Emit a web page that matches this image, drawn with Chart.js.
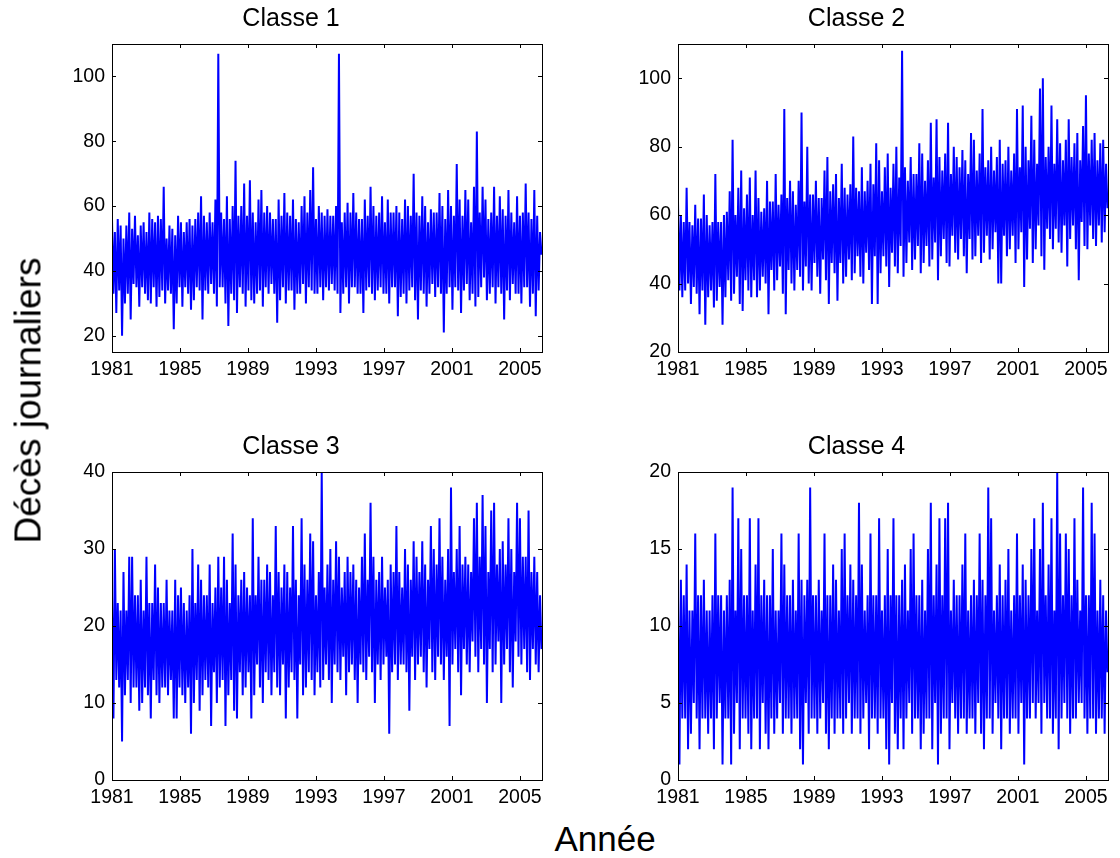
<!DOCTYPE html>
<html>
<head>
<meta charset="utf-8">
<script src="https://cdn.jsdelivr.net/npm/chart.js@4.4.1/dist/chart.umd.min.js"></script>
<style>
  body { margin: 0; background: #fff; }
  #wrap { position: relative; width: 1120px; height: 858px; overflow: hidden; font-family: "Liberation Sans", Arial, sans-serif; }
  canvas { position: absolute; }
  .lab { position: absolute; color: #000; line-height: 1; white-space: nowrap; text-align: center; z-index: 2; }
</style>
</head>
<body>
<div id="wrap">
  <canvas id="c1" width="520" height="390" style="left:40px;top:0px"></canvas>
  <canvas id="c2" width="515" height="390" style="left:605px;top:0px"></canvas>
  <canvas id="c3" width="520" height="390" style="left:40px;top:428px"></canvas>
  <canvas id="c4" width="515" height="390" style="left:605px;top:428px"></canvas>
  <div class="lab" id="ylab" style="font-size:37px;width:400px;left:-172px;top:382px;transform:rotate(-90deg)">Décès journaliers</div>
  <div class="lab" style="font-size:35px;width:300px;left:455px;top:821px">Année</div>
</div>
<script>
// x axis: years (daily series, drawn as evenly spaced samples between start and end)
const tStart = 1981;
const tEnd = 2006.27;
const yearTicks = [1981, 1985, 1989, 1993, 1997, 2001, 2005];

const titles = ['Classe 1', 'Classe 2', 'Classe 3', 'Classe 4'];

// Classe 1 - daily deaths (alternating highs / lows)
const classe1 = [
  56,33,52,27,56,34,54,20,50,30,54,33,58,25,53,36,57,35,51,29,54,35,55,33,52,31,58,30,56,35,
  55,29,57,32,56,34,66,30,50,34,54,33,53,22,51,30,57,35,55,29,52,35,55,33,56,28,54,31,56,35,
  58,34,63,25,57,34,55,33,58,36,55,33,62,29,107,35,58,35,56,30,63,23,56,33,60,31,74,27,57,35,
  60,33,67,29,57,34,68,31,58,30,55,33,62,34,65,29,58,35,60,33,58,36,56,33,56,24,62,31,57,35,
  64,30,58,34,57,34,62,28,56,33,55,33,60,36,63,30,58,35,65,34,72,33,56,33,60,35,58,31,57,35,
  59,34,57,36,57,34,60,33,107,27,55,33,58,35,61,30,58,35,64,35,58,33,56,33,56,27,62,34,57,35,
  66,33,60,31,57,34,58,35,63,33,55,33,62,30,58,35,58,35,60,26,58,32,56,33,62,30,60,34,57,35,
  70,31,58,25,57,34,63,33,60,29,55,33,59,36,58,32,58,35,64,33,60,21,56,33,65,35,60,28,57,35,
  73,34,62,27,57,34,65,36,62,31,55,33,66,29,83,32,58,35,66,38,62,31,56,33,58,35,66,30,57,35,
  63,33,59,25,57,34,65,31,58,36,55,33,63,33,57,30,58,35,67,35,58,29,56,33,65,26,57,34,52,45
];

// Classe 2
const classe2 = [
  64,38,60,36,58,38,68,40,58,34,57,39,63,37,59,31,59,38,66,28,60,36,57,38,58,33,72,35,58,39,
  58,28,60,36,61,41,67,35,82,37,60,42,68,34,73,32,62,41,66,38,71,36,60,41,73,36,65,38,61,42,
  62,40,70,31,64,44,64,38,72,41,63,45,66,37,91,31,65,44,70,40,67,38,63,44,70,42,90,38,64,45,
  80,40,66,38,66,46,70,42,65,37,65,47,73,41,77,34,67,46,69,43,72,35,65,46,75,40,68,42,66,47,
  69,41,83,43,68,48,67,42,74,40,67,49,70,44,75,34,69,48,81,34,76,43,67,48,74,45,78,39,68,49,
  75,45,80,43,71,51,108,42,74,46,70,52,77,44,72,47,72,51,81,43,78,46,70,51,76,45,87,47,71,52,
  88,41,77,48,73,53,78,46,87,45,72,54,80,49,77,47,74,53,79,48,76,43,72,53,84,47,82,48,73,54,
  78,46,91,49,74,54,76,47,80,50,73,55,77,40,82,40,75,54,76,48,80,50,73,54,78,46,91,50,74,55,
  92,39,80,47,76,56,89,46,82,50,75,57,97,48,100,44,77,56,80,53,92,50,75,56,88,52,81,49,76,57,
  82,45,88,53,77,57,81,50,84,41,76,58,86,51,95,50,78,57,82,53,84,51,76,57,81,52,82,55,75,62
];

// Classe 3
const classe3 = [
  24,8,30,13,23,12,22,5,27,11,22,13,29,10,29,12,24,12,24,9,26,10,22,12,29,11,23,8,23,13,
  28,11,25,10,23,12,23,12,26,11,22,13,22,8,26,8,24,12,25,11,23,10,22,12,24,6,30,10,23,13,
  28,9,26,11,24,13,24,12,28,7,23,14,25,10,29,12,25,13,29,7,26,11,23,13,32,9,28,8,24,14,
  26,11,27,12,25,14,24,8,34,11,24,15,29,12,26,10,26,14,28,13,27,11,24,14,33,12,27,11,25,15,
  28,8,27,12,25,14,33,13,26,8,24,15,34,11,28,12,26,14,32,13,31,11,24,14,27,12,40,13,25,15,
  28,13,30,10,26,15,31,14,29,13,25,16,27,11,29,14,27,15,28,13,26,10,25,15,29,14,32,13,26,16,
  36,14,29,10,26,15,27,13,29,15,25,16,26,6,28,14,27,15,33,13,27,15,25,15,30,14,28,9,26,16,
  31,13,29,15,27,16,31,14,28,12,26,17,33,14,30,13,28,16,34,15,29,13,26,16,30,7,38,15,27,17,
  30,14,33,11,28,17,29,15,28,14,27,18,34,16,36,14,29,17,37,15,33,10,27,17,35,14,36,15,28,18,
  30,10,31,15,28,17,34,14,30,12,27,18,36,16,34,15,29,17,29,14,35,13,27,17,29,15,27,14,24,17
];

// Classe 4
const classe4 = [
  12,1,13,4,12,4,14,2,11,3,11,5,16,4,12,2,12,4,13,4,11,3,11,4,12,2,16,4,12,5,
  12,1,11,4,12,4,13,1,19,3,11,5,17,2,15,4,12,4,12,3,17,2,11,4,14,4,17,2,12,5,
  13,3,12,2,12,4,15,3,11,4,11,5,16,3,14,4,12,4,12,3,13,4,11,4,16,2,13,1,12,5,
  13,3,19,4,12,4,12,3,13,4,11,5,16,3,12,2,12,4,14,3,13,4,11,4,15,3,16,4,12,5,
  14,3,13,4,12,4,18,3,14,4,11,5,12,2,16,4,12,4,12,3,17,4,11,4,12,2,15,1,12,5,
  17,3,12,2,12,4,13,2,14,4,11,5,15,3,16,4,12,4,12,2,13,3,11,4,15,4,18,2,12,5,
  14,1,17,3,12,4,17,4,18,2,11,5,13,4,12,3,12,4,14,4,16,3,11,4,12,4,13,3,12,5,
  16,3,13,2,12,4,19,4,17,3,11,5,12,4,14,2,12,4,13,4,15,3,11,4,12,4,16,3,12,5,
  14,1,13,4,12,4,15,5,17,4,11,5,15,3,18,5,12,4,14,4,17,3,11,4,20,2,16,4,12,5,
  16,4,15,3,12,4,17,4,13,5,11,5,19,4,12,3,12,4,18,4,16,3,11,4,13,4,12,3,11,7
];

const yTicks1 = [20, 40, 60, 80, 100];
const yTicks2 = [20, 40, 60, 80, 100];
const yTicks3 = [0, 10, 20, 30, 40];
const yTicks4 = [0, 5, 10, 15, 20];

const FONT = '"Liberation Sans", Arial, sans-serif';

function toPoints(vals) {
  const step = (tEnd - tStart) / (vals.length - 1);
  return vals.map((v, i) => ({ x: tStart + i * step, y: v }));
}

// MATLAB-like frame with inward tick marks
const boxPlugin = {
  id: 'box',
  afterDatasetsDraw(chart) {
    const { ctx, chartArea: a, scales } = chart;
    const len = 4;
    ctx.save();
    ctx.strokeStyle = '#000';
    ctx.lineWidth = 1;
    ctx.beginPath();
    scales.x.ticks.forEach(t => {
      const px = Math.round(scales.x.getPixelForValue(t.value)) + 0.5;
      ctx.moveTo(px, a.bottom); ctx.lineTo(px, a.bottom - len);
      ctx.moveTo(px, a.top); ctx.lineTo(px, a.top + len);
    });
    scales.y.ticks.forEach(t => {
      const py = Math.round(scales.y.getPixelForValue(t.value)) + 0.5;
      ctx.moveTo(a.left, py); ctx.lineTo(a.left + len, py);
      ctx.moveTo(a.right, py); ctx.lineTo(a.right - len, py);
    });
    ctx.stroke();
    ctx.strokeRect(Math.round(a.left) + 0.5, Math.round(a.top) + 0.5, Math.round(a.width), Math.round(a.height));
    ctx.restore();
  }
};

function makePanel(id, title, values, yMin, yMax, yTickVals, yWidth, rightPad) {
  new Chart(document.getElementById(id), {
    type: 'line',
    data: {
      datasets: [{
        data: toPoints(values),
        borderColor: 'rgb(0,0,255)',
        borderWidth: 2,
        pointRadius: 0,
        tension: 0,
        fill: false
      }]
    },
    options: {
      responsive: false,
      animation: false,
      events: [],
      layout: { padding: { top: 0, right: rightPad, bottom: 0, left: 0 } },
      plugins: {
        legend: { display: false },
        tooltip: { enabled: false },
        title: {
          display: true,
          text: title,
          color: '#000',
          font: { size: 25, family: FONT, weight: 'normal' },
          padding: { top: 4, bottom: 10 }
        }
      },
      scales: {
        x: {
          type: 'linear',
          min: 1981,
          max: 2006.3,
          afterBuildTicks: s => { s.ticks = yearTicks.map(v => ({ value: v })); },
          afterFit: s => { s.height = 38; },
          grid: { display: false, drawTicks: false },
          border: { display: false },
          ticks: {
            color: '#000',
            font: { size: 19.5, family: FONT },
            padding: 6,
            maxRotation: 0,
            autoSkip: false,
            callback: v => String(v)
          }
        },
        y: {
          type: 'linear',
          min: yMin,
          max: yMax,
          afterBuildTicks: s => { s.ticks = yTickVals.map(v => ({ value: v })); },
          afterFit: s => { s.width = yWidth; },
          grid: { display: false, drawTicks: false },
          border: { display: false },
          ticks: {
            color: '#000',
            font: { size: 19.5, family: FONT },
            padding: 7,
            callback: v => String(v)
          }
        }
      }
    },
    plugins: [boxPlugin]
  });
}

makePanel('c1', titles[0], classe1, 15, 110, yTicks1, 72, 18);
makePanel('c2', titles[1], classe2, 20, 110, yTicks2, 73, 12);
makePanel('c3', titles[2], classe3, 0, 40, yTicks3, 72, 18);
makePanel('c4', titles[3], classe4, 0, 20, yTicks4, 73, 12);
</script>
</body>
</html>
